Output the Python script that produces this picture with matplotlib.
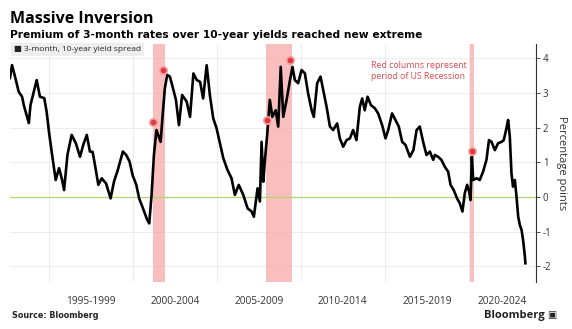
import matplotlib
matplotlib.use("Agg")
import matplotlib.pyplot as plt

# 3-month / 10-year yield spread (decimal year, percentage points)
years = [
    1992.68, 1992.8, 1993.0, 1993.2, 1993.4, 1993.5, 1993.8, 1993.9, 1994.27, 1994.46,
    1994.72, 1994.86, 1995.0, 1995.16, 1995.4, 1995.6, 1995.76, 1995.9, 1996.1, 1996.35,
    1996.6, 1996.85, 1997.04, 1997.25, 1997.44, 1997.6, 1997.74, 1997.94, 1998.14, 1998.4,
    1998.67, 1998.87, 1999.1, 1999.4, 1999.6, 1999.8, 1999.98, 2000.2, 2000.37, 2000.6,
    2000.85, 2000.97, 2001.11, 2001.25, 2001.4, 2001.65, 2001.77, 2001.9, 2002.04, 2002.2,
    2002.36, 2002.56, 2002.74, 2002.93, 2003.2, 2003.4, 2003.6, 2003.8, 2004.0, 2004.18,
    2004.39, 2004.58, 2004.78, 2004.98, 2005.18, 2005.38, 2005.63, 2005.87, 2006.07, 2006.3,
    2006.57, 2006.83, 2007.07, 2007.2, 2007.42, 2007.56, 2007.66, 2007.76, 2007.86, 2008.0,
    2008.15, 2008.3, 2008.5, 2008.65, 2008.8, 2008.95, 2009.15, 2009.35, 2009.5, 2009.64,
    2009.84, 2010.04, 2010.24, 2010.43, 2010.64, 2010.77, 2010.97, 2011.17, 2011.37, 2011.53,
    2011.73, 2011.92, 2012.16, 2012.32, 2012.52, 2012.72, 2012.92, 2013.11, 2013.31, 2013.51,
    2013.65, 2013.8, 2013.97, 2014.17, 2014.4, 2014.6, 2014.84, 2015.04, 2015.2, 2015.43,
    2015.63, 2015.83, 2016.03, 2016.23, 2016.49, 2016.7, 2016.89, 2017.08, 2017.28, 2017.48,
    2017.68, 2017.88, 2017.98, 2018.17, 2018.37, 2018.57, 2018.77, 2018.91, 2019.1, 2019.3,
    2019.46, 2019.62, 2019.76, 2019.9, 2020.02, 2020.1, 2020.18, 2020.26, 2020.46, 2020.65,
    2020.85, 2021.05, 2021.2, 2021.35, 2021.55, 2021.74, 2021.95, 2022.08, 2022.24, 2022.34,
    2022.44, 2022.54, 2022.63, 2022.74, 2022.84, 2022.94, 2023.04, 2023.14, 2023.23, 2023.33,
    2023.37,
]
spread = [
    3.43, 3.8, 3.43, 3.03, 2.89, 2.65, 2.13, 2.65, 3.37, 2.89,
    2.85, 2.46, 1.88, 1.31, 0.49, 0.83, 0.54, 0.2, 1.21, 1.79,
    1.55, 1.16, 1.5, 1.79, 1.31, 1.3, 0.92, 0.35, 0.54, 0.39,
    -0.04, 0.44, 0.78, 1.31, 1.21, 1.02, 0.63, 0.35, -0.04, -0.33,
    -0.66, -0.76, 0.06, 1.21, 1.93, 1.59, 2.36, 3.13, 3.52, 3.47,
    3.18, 2.8, 2.07, 2.94, 2.75, 2.31, 3.56, 3.37, 3.32, 2.84,
    3.8, 2.94, 2.27, 1.98, 1.55, 1.12, 0.78, 0.54, 0.06, 0.35,
    0.06, -0.33, -0.42, -0.57, 0.25, -0.13, 1.59, 0.44, 1.07, 1.83,
    2.8, 2.31, 2.5, 2.03, 3.75, 2.31, 2.8, 3.37, 3.75, 3.37,
    3.28, 3.66, 3.56, 2.99, 2.5, 2.31, 3.28, 3.47, 2.99, 2.6,
    2.03, 1.93, 2.12, 1.69, 1.45, 1.64, 1.69, 1.93, 1.64, 2.6,
    2.84, 2.5, 2.89, 2.65, 2.56, 2.41, 2.07, 1.69, 1.93, 2.41,
    2.22, 2.03, 1.59, 1.5, 1.16, 1.35, 1.93, 2.03, 1.59, 1.21,
    1.31, 1.07, 1.21, 1.16, 1.07, 0.87, 0.73, 0.35, 0.2, -0.04,
    -0.18, -0.42, 0.11, 0.35, 0.15, -0.09, 1.16, 0.49, 0.54, 0.49,
    0.73, 1.07, 1.64, 1.59, 1.35, 1.55, 1.59, 1.64, 1.98, 2.22,
    1.74, 0.68, 0.3, 0.49, 0.01, -0.57, -0.81, -0.95, -1.24, -1.67,
    -1.91,
]

# US recessions (start, end)
rec_start = [2001.19, 2007.92, 2020.06]
rec_end = [2001.9, 2009.46, 2020.3]

# red markers
dot_years = [2001.2, 2001.77, 2008.0, 2009.38, 2020.16]
dot_vals = [2.15, 3.66, 2.22, 3.95, 1.33]

period_labels = ["1995-1999", "2000-2004", "2005-2009", "2010-2014", "2015-2019", "2020-2024"]
period_pos = [1997.5, 2002.5, 2007.5, 2012.5, 2017.5, 2022.0]
yticks = [-2, -1, 0, 1, 2, 3, 4]

plt.rcParams["font.family"] = ["Open Sans", "DejaVu Sans"]

fig = plt.figure(figsize=(5.72, 3.29), dpi=100)
ax = fig.add_axes([10 / 572, 47 / 329, 526 / 572, 238 / 329])

ax.set_xlim(1992.68, 2024.0)
ax.set_ylim(-2.45, 4.41)

for a, b in zip(rec_start, rec_end):
    ax.axvspan(a, b, color="#f7a9a9", alpha=0.75, lw=0, zorder=1)

for y in yticks:
    ax.axhline(y, color="#ececec", lw=0.7, zorder=0)
for yr in [1995, 2000, 2005, 2010, 2015, 2020]:
    ax.axvline(yr, color="#ececec", lw=0.7, zorder=0)
ax.axhline(0, color="#b3d66a", lw=0.9, zorder=2)

ax.plot(years, spread, color="black", lw=1.9, zorder=3)
ax.scatter(dot_years, dot_vals, s=28, color="#e0393e", edgecolor="#f5a0a0",
           linewidth=1.2, zorder=4)

for s in ["left", "top", "bottom"]:
    ax.spines[s].set_visible(False)
ax.spines["right"].set_color("#333333")
ax.spines["right"].set_linewidth(0.8)

ax.yaxis.tick_right()
ax.set_yticks(yticks)
ax.set_yticklabels([str(v) for v in yticks])
ax.tick_params(axis="y", length=3, width=0.6, pad=2, labelsize=7, colors="#333333")
ax.set_xticks(period_pos)
ax.set_xticklabels(period_labels)
ax.tick_params(axis="x", length=0, pad=10, labelsize=7.3, colors="#333333")

ax.yaxis.set_label_position("right")
ax.set_ylabel("Percentage points", rotation=270, labelpad=11, fontsize=8,
              color="#333333")

ax.text(2017.0, 3.93, "Red columns represent\nperiod of US Recession", color="#e0474c",
        fontsize=6.3, ha="center", va="top", linespacing=1.3)

fig.text(14 / 572, 1 - 51 / 329, "\u25a0 3-month, 10-year yield spread", fontsize=6.0,
         color="#222222", va="baseline",
         bbox=dict(boxstyle="square,pad=0.35", fc="#eeeeee", ec="none"))

fig.text(10 / 572, 1 - 23 / 329, "Massive Inversion", fontsize=11.5,
         fontweight="bold", family=["Open Sans"], va="baseline")
fig.text(10 / 572, 1 - 38 / 329,
         "Premium of 3-month rates over 10-year yields reached new extreme",
         fontsize=7.7, fontweight="bold", family=["DejaVu Sans"], va="baseline")
fig.text(12 / 572, 1 - 318 / 329, "Source: Bloomberg", fontsize=5.8, fontweight="bold",
         family=["DejaVu Sans"], va="baseline", color="#222222")
fig.text(545 / 572, 1 - 318 / 329, "Bloomberg", fontsize=8, fontweight="bold",
         family=["Open Sans"], va="baseline", ha="right", color="#222222")
fig.text(556 / 572, 1 - 318 / 329, "\u25a3", fontsize=7, family=["DejaVu Sans"],
         va="baseline", ha="right", color="#222222")

fig.savefig("out.png", dpi=100)
